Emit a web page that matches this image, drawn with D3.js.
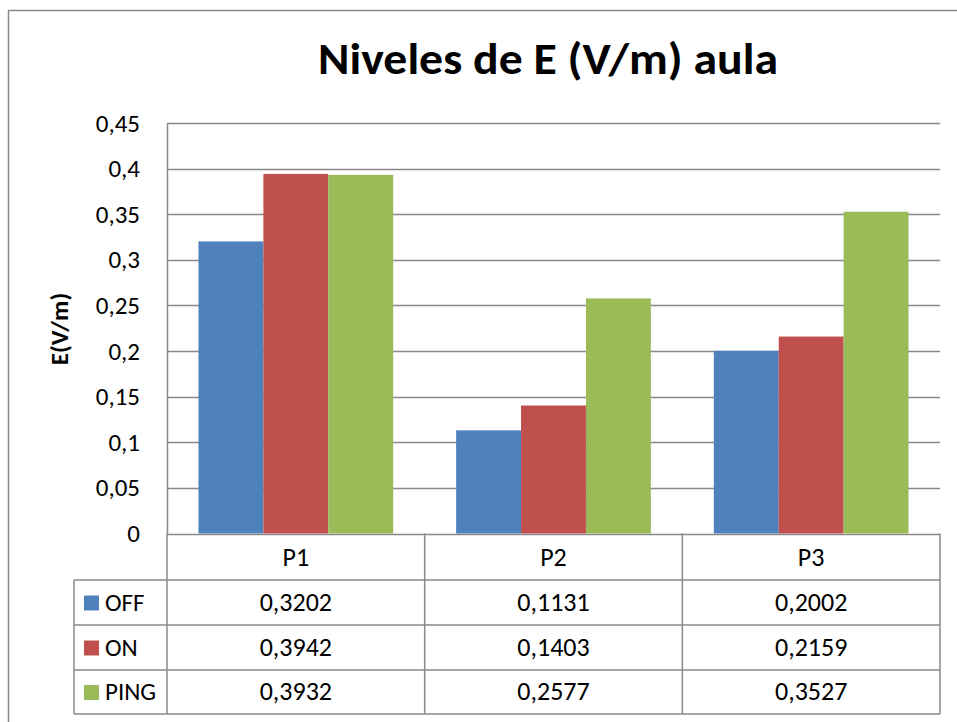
<!DOCTYPE html>
<html><head><meta charset="utf-8">
<script src="https://cdn.jsdelivr.net/npm/d3@7"></script>
<style>body{margin:0;background:#fff;}svg{display:block;}</style>
</head><body>
<script>
const categories = ["P1","P2","P3"];
const seriesNames = ["OFF","ON","PING"];
const offValues = [0.3202,0.1131,0.2002];
const onValues = [0.3942,0.1403,0.2159];
const pingValues = [0.3932,0.2577,0.3527];
const tickValues = [0,0.05,0.1,0.15,0.2,0.25,0.3,0.35,0.4,0.45];
const colors = ["#4F81BD","#C0504D","#9BBB59"];
const series = [offValues,onValues,pingValues];

(function(){
const W=957,H=722;
const svg=d3.select("body").append("svg").attr("width",W).attr("height",H);
const font="Carlito, Calibri, 'Open Sans', sans-serif";
const grid="#898989";
const fs=25, tfs=26;

svg.append("rect").attr("x",8.5).attr("y",10.5).attr("width",1000).attr("height",1000)
  .attr("fill","none").attr("stroke",grid).attr("stroke-width",1.5);

const pLeft=167,pRight=940,pTop=123,pBottom=533.5;
const x=d3.scaleBand().domain(categories).range([pLeft,pRight]).paddingInner(0).paddingOuter(0);
const y=d3.scaleLinear().domain([0,0.45]).range([pBottom,pTop]);
const x1=d3.scaleBand().domain(seriesNames).range([0,x.bandwidth()]).paddingOuter(0.485).paddingInner(0);

svg.append("g").selectAll("line").data(tickValues).join("line")
  .attr("x1",pLeft).attr("x2",pRight).attr("y1",d=>Math.round(y(d))+0.5).attr("y2",d=>Math.round(y(d))+0.5)
  .attr("stroke",grid).attr("stroke-width",1.5);

const fmt=d=>String(d).replace(".",",");
const ya=svg.append("g").attr("transform",`translate(${pLeft},0)`)
  .call(d3.axisLeft(y).tickValues(tickValues).tickFormat(fmt).tickSize(0).tickPadding(27));
ya.select(".domain").attr("stroke",grid).attr("stroke-width",1.5);
ya.selectAll("text").attr("font-family",font).attr("font-size",fs).attr("fill","#000");

categories.forEach((c,ci)=>{
  series.forEach((s,si)=>{
    svg.append("rect").attr("x",x(c)+x1(seriesNames[si])).attr("y",y(s[ci]))
      .attr("width",x1.bandwidth()).attr("height",pBottom-y(s[ci])).attr("fill",colors[si]);
  });
});

svg.append("text").attr("x",548).attr("y",74).attr("text-anchor","middle")
  .attr("font-family",font).attr("font-weight","bold").attr("font-size",44)
  .attr("textLength",460).attr("lengthAdjust","spacingAndGlyphs")
  .text("Niveles de E (V/m) aula");

svg.append("text").attr("transform","translate(68,329) rotate(-90)").attr("text-anchor","middle")
  .attr("font-family",font).attr("font-weight","bold").attr("font-size",25).text("E(V/m)");

const rows=[535,580,625,670,714];
const tg=svg.append("g");
const line=(a,b,c,d)=>tg.append("line").attr("x1",a).attr("y1",b).attr("x2",c).attr("y2",d).attr("stroke",grid).attr("stroke-width",1.5);
const colEdges=[pLeft, x("P2"), x("P3"), pRight];
colEdges.forEach(cx=>line(cx,pBottom,cx,rows[4]));
line(74,rows[1],74,rows[4]);
[1,2,3,4].forEach(i=>line(74,rows[i],pRight,rows[i]));
categories.forEach(c=>{
  tg.append("text").attr("x",x(c)+x.bandwidth()/2).attr("y",(rows[0]+rows[1])/2+8).attr("text-anchor","middle")
    .attr("font-family",font).attr("font-size",tfs).text(c);
});
seriesNames.forEach((n,si)=>{
  const cy=(rows[si+1]+rows[si+2])/2;
  tg.append("rect").attr("x",84).attr("y",cy-7).attr("width",15).attr("height",15).attr("fill",colors[si]);
  tg.append("text").attr("x",105).attr("y",cy+8).attr("font-family",font).attr("font-size",fs).text(n);
  categories.forEach((c,ci)=>{
    tg.append("text").attr("x",x(c)+x.bandwidth()/2).attr("y",cy+8).attr("text-anchor","middle")
      .attr("font-family",font).attr("font-size",tfs).text(fmt(series[si][ci]));
  });
});
})();
</script>
</body></html>
